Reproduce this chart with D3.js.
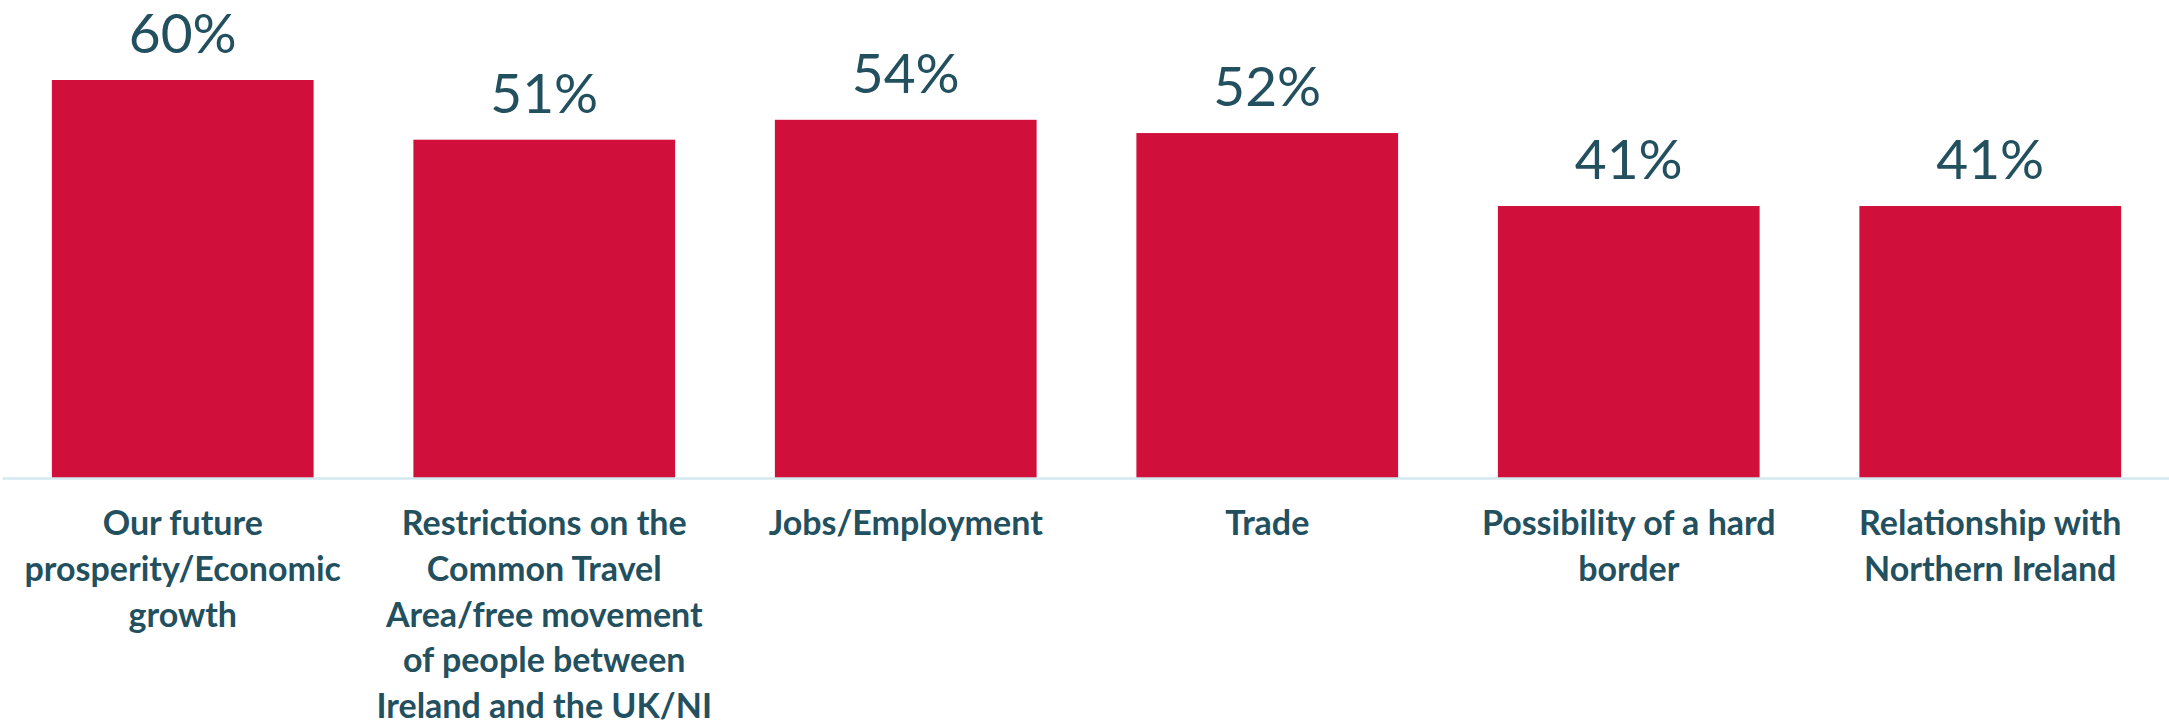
<!DOCTYPE html>
<html>
<head>
<meta charset="utf-8">
<script src="https://cdn.jsdelivr.net/npm/d3@7"></script>
<style>
  body { margin: 0; background: #fff; }
</style>
</head>
<body>
<div id="chart"></div>
<script>
// categories (line breaks as in the original labels)
var categories = [
  "Our future\nprosperity/Economic\ngrowth",
  "Restrictions on the\nCommon Travel\nArea/free movement\nof people between\nIreland and the UK/NI",
  "Jobs/Employment",
  "Trade",
  "Possibility of a hard\nborder",
  "Relationship with\nNorthern Ireland"
];
var values = [60, 51, 54, 52, 41, 41];

var width = 2169, height = 725;
var baseY = 478;

var svg = d3.select("#chart")
  .append("svg")
    .attr("width", width)
    .attr("height", height);

var x = d3.scaleBand()
    .domain(categories)
    .range([2, 2171])
    .paddingInner(0.276)
    .paddingOuter(0.138);

var y = d3.scaleLinear()
    .domain([0, 72.06])
    .range([baseY, 0]);

// bars
svg.append("g")
  .selectAll("rect")
  .data(values)
  .enter().append("rect")
    .attr("x", function(d, i) { return x(categories[i]); })
    .attr("y", function(d) { return y(d); })
    .attr("width", x.bandwidth())
    .attr("height", function(d) { return baseY - y(d); })
    .style("fill", "#d0103a");

// axis line
var axis = svg.append("g")
    .attr("transform", "translate(0," + baseY + ")")
    .call(d3.axisBottom(x).tickSize(0).tickSizeOuter(0).tickFormat(""));
axis.select(".domain")
    .attr("stroke", "#d5e8ef")
    .attr("stroke-width", 2.5);

// value labels
svg.append("g")
  .selectAll("text")
  .data(values)
  .enter().append("text")
    .attr("x", function(d, i) { return x(categories[i]) + x.bandwidth() / 2; })
    .attr("y", function(d) { return y(d) - 27; })
    .attr("text-anchor", "middle")
    .style("font-family", "Lato, 'Open Sans', sans-serif")
    .style("font-size", "55px")
    .style("fill", "#23505f")
    .text(function(d) { return d + "%"; });

// category labels
var labels = svg.append("g")
  .selectAll("text")
  .data(categories)
  .enter().append("text")
    .attr("x", function(d) { return x(d) + x.bandwidth() / 2; })
    .attr("y", 535)
    .attr("text-anchor", "middle")
    .style("font-family", "Lato, 'Open Sans', sans-serif")
    .style("font-weight", "bold")
    .style("font-size", "34px")
    .style("fill", "#23505f");

labels.each(function(d) {
  var t = d3.select(this);
  d.split("\n").forEach(function(line, i) {
    t.append("tspan")
      .attr("x", t.attr("x"))
      .attr("dy", i == 0 ? 0 : 45.8)
      .text(line);
  });
});
</script>
</body>
</html>
